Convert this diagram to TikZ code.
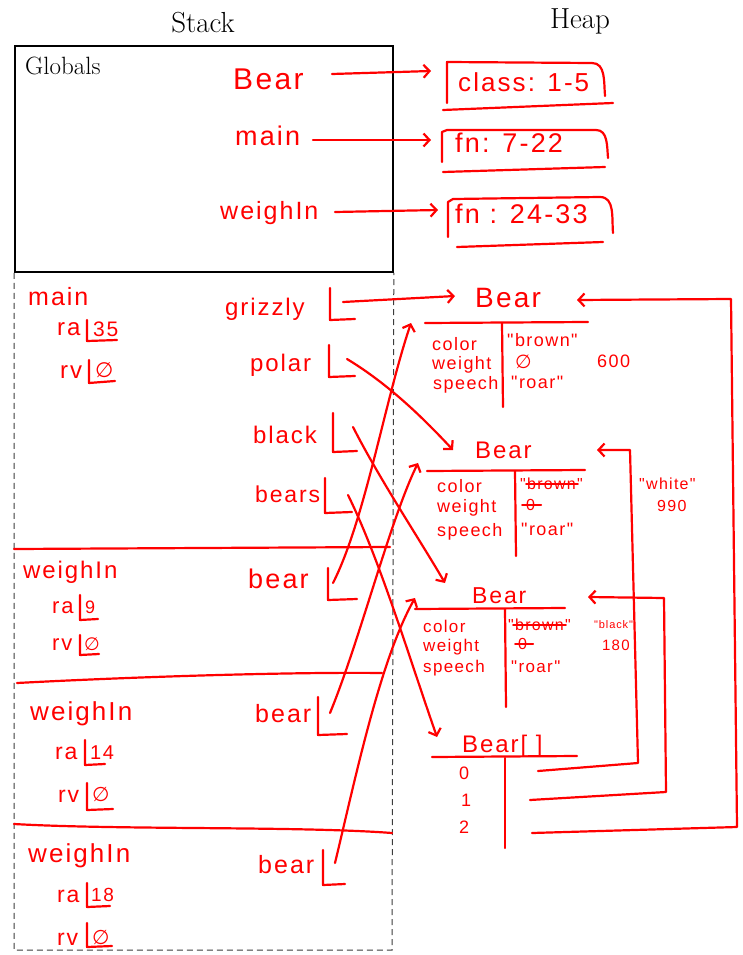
\documentclass[tikz,border=0pt]{standalone}
\usepackage{fontspec}
\newfontfamily\hwfont[LetterSpace=8]{Liberation Sans}
\newfontfamily\symfont{DejaVu Sans}
\usetikzlibrary{arrows.meta,calc}
\definecolor{ink}{RGB}{255,0,0}
\definecolor{dashgray}{RGB}{60,60,60}
\newcommand\hwnull{{\symfont ∅}}
\tikzset{
 hand/.style={draw=ink, line width=2.2pt, line cap=round, line join=round},
 harrow/.style={hand, -{Straight Barb[length=6pt,width=13pt,line width=2.2pt]}},
 hw/.style={text=ink, inner sep=0pt, anchor=base west, font=\hwfont\fontsize{#1}{#1}\selectfont},
 hw/.default=24,
 serif/.style={text=black, inner sep=0pt, font=\fontsize{#1}{#1}\selectfont},
 strike/.style={draw=ink, line width=1.6pt, line cap=round},
}
\begin{document}
\begin{tikzpicture}[x=1pt,y=-1pt]
\useasboundingbox (0,0) rectangle (743,955);
% ---------- titles ----------
\node[serif=29] (stackT) at (203,23) {Stack};
\node[serif=29] (heapT) at (580,21) {Heap};
% ---------- globals ----------
\node[draw=black, line width=1.8pt, minimum width=378pt, minimum height=226pt, anchor=north west, inner sep=0pt] (globals) at (14,45) {};
\node[serif=25, anchor=base west] (globT) at (25,75) {Globals};
\draw[dashgray, line width=1pt, dash pattern=on 6pt off 4pt] (globals.south west) -- (14,950) -- (392,950) -- (globals.south east);

\node[hw=30] (gBear) at (233,90) {Bear};
\node[hw=27] (gMain) at (235,145) {main};
\node[hw=25] (gWeigh) at (220,219) {weighIn};

\node[hw=26] (cls) at (458,92) {class: 1-5};
\draw[hand] (447,103) -- (447,62) -- (592,63) to[out=0,in=95] (605,96);
\draw[hand] (443,110) -- (613,103);
\node[hw=27] (fnA) at (455,153) {fn: 7-22};
\draw[hand] (442,162) -- (442,132) -- (447,130) -- (596,130) to[out=0,in=95] (608,158);
\draw[hand] (443,172) -- (605,167);
\node[hw=27] (fnB) at (455,223) {fn : 24-33};
\draw[hand] (448,237) -- (448,202) -- (453,199) -- (600,197) to[out=0,in=95] (613,233);
\draw[hand] (457,247) -- (603,242);

\coordinate (gBearOut) at (332,74);  \coordinate (clsIn) at (431,71);
\coordinate (gMainOut) at (313,140); \coordinate (fnAIn) at (431,140);
\coordinate (gWeighOut) at (335,212); \coordinate (fnBIn) at (438,210);
\draw[harrow] (gBearOut) -- (clsIn);
\draw[harrow] (gMainOut) -- (fnAIn);
\draw[harrow] (gWeighOut) -- (fnBIn);

% ---------- frame separators ----------
\draw[hand] (14,549) -- (390,547);
\draw[hand] (17,683) .. controls (150,676) and (300,672) .. (382,673);
\draw[hand] (14,824) .. controls (120,830) and (300,826) .. (392,833);

% ---------- main frame ----------
\node[hw=25] (fMain) at (28,305) {main};
\node[hw=24] (mRa) at (57,335) {ra};
\draw[hand] (87,320) -- (87,341) -- (117,340);
\node[hw=21] (mRaV) at (93,336) {35};
\node[hw=24] (mRv) at (60,378) {rv};
\draw[hand] (89,360) -- (89,383) -- (115,381);
\node[hw=21] (mRvV) at (95,377) {\hwnull};

\node[hw=24] (grizzly) at (225,315) {grizzly};
\draw[hand] (330,288) -- (330,320) -- (355,319);
\node[hw=24] (polar) at (250,371) {polar};
\draw[hand] (329,345) -- (329,377) -- (355,376);
\node[hw=24] (black) at (253,443) {black};
\draw[hand] (333,413) -- (333,452) -- (357,451);
\node[hw=23] (bears) at (255,502) {bears};
\draw[hand] (325,478) -- (325,513) -- (352,512);

% ---------- weighIn frame 1 ----------
\node[hw=24] (w1) at (23,578) {weighIn};
\node[hw=22] (w1Ra) at (52,613) {ra};
\draw[hand] (80,595) -- (80,620) -- (98,619);
\node[hw=18] (w1RaV) at (85,613) {9};
\node[hw=22] (w1Rv) at (52,650) {rv};
\draw[hand] (80,635) -- (80,655) -- (99,654);
\node[hw=18] (w1RvV) at (84,650) {\hwnull};
\node[hw=27] (bear1) at (248,588) {bear};
\draw[hand] (328,568) -- (328,600) -- (357,599);

% ---------- weighIn frame 2 ----------
\node[hw=26] (w2) at (30,720) {weighIn};
\node[hw=23] (w2Ra) at (55,759) {ra};
\draw[hand] (85,740) -- (85,765) -- (105,764);
\node[hw=20] (w2RaV) at (90,759) {14};
\node[hw=23] (w2Rv) at (58,802) {rv};
\draw[hand] (87,783) -- (87,810) -- (113,809);
\node[hw=20] (w2RvV) at (92,801) {\hwnull};
\node[hw=25] (bear2) at (255,722) {bear};
\draw[hand] (318,697) -- (318,735) -- (347,734);

% ---------- weighIn frame 3 ----------
\node[hw=26] (w3) at (28,862) {weighIn};
\node[hw=23] (w3Ra) at (57,902) {ra};
\draw[hand] (87,883) -- (87,907) -- (110,906);
\node[hw=19] (w3RaV) at (91,901) {18};
\node[hw=23] (w3Rv) at (57,945) {rv};
\draw[hand] (87,923) -- (87,947) -- (112,946);
\node[hw=20] (w3RvV) at (92,944) {\hwnull};
\node[hw=25] (bear3) at (258,873) {bear};
\draw[hand] (323,850) -- (323,885) -- (345,884);

% ---------- heap: Bear 1 ----------
\node[hw=28] (B1) at (475,307) {Bear};
\draw[hand] (425,323) -- (588,322);
\draw[hand] (502,323) -- (503,407);
\node[hw=18] (B1c) at (432,350) {color};
\node[hw=18] (B1w) at (432,369) {weight};
\node[hw=18] (B1s) at (433,389) {speech};
\node[hw=18] (B1cv) at (507,346) {"brown"};
\node[hw=19] (B1wv) at (515,368) {\hwnull};
\node[hw=18] (B1sv) at (511,388) {"roar"};
\node[hw=18] (B1new) at (597,367) {600};

% ---------- heap: Bear 2 ----------
\node[hw=24] (B2) at (475,458) {Bear};
\draw[hand] (427,471) -- (585,470);
\draw[hand] (515,471) -- (516,556);
\node[hw=18] (B2c) at (437,492) {color};
\node[hw=18] (B2w) at (437,512) {weight};
\node[hw=18] (B2s) at (437,536) {speech};
\node[hw=16] (B2cv) at (520,489) {"brown"};
\draw[strike] ($(B2cv.base west)+(6,-5)$) -- ($(B2cv.base east)+(-5,-5)$);
\node[hw=16] (B2wv) at (526,510) {0};
\draw[strike] ($(B2wv.base west)+(-4,-5)$) -- ($(B2wv.base east)+(6,-5)$);
\node[hw=18] (B2sv) at (521,535) {"roar"};
\node[hw=16] (B2newc) at (639,489) {"white"};
\node[hw=16] (B2neww) at (657,511) {990};

% ---------- heap: Bear 3 ----------
\node[hw=23] (B3) at (472,603) {Bear};
\draw[hand] (415,609) -- (565,608);
\draw[hand] (505,609) -- (506,707);
\node[hw=17] (B3c) at (423,632) {color};
\node[hw=17] (B3w) at (423,651) {weight};
\node[hw=17] (B3s) at (423,672) {speech};
\node[hw=16] (B3cv) at (508,630) {"brown"};
\draw[strike] ($(B3cv.base west)+(5,-5)$) -- ($(B3cv.base east)+(-5,-5)$);
\node[hw=16] (B3wv) at (518,649) {0};
\draw[strike] ($(B3wv.base west)+(-3,-5)$) -- ($(B3wv.base east)+(6,-5)$);
\node[hw=17] (B3sv) at (511,672) {"roar"};
\node[hw=11] (B3newc) at (594,628) {"black"};
\node[hw=15] (B3neww) at (602,650) {180};

% ---------- heap: Bear[] ----------
\node[hw=24] (BA) at (462,752) {Bear[ ]};
\draw[hand] (432,757) -- (577,756);
\draw[hand] (505,758) -- (505,848);
\node[hw=18] (i0) at (459,779) {0};
\node[hw=18] (i1) at (461,806) {1};
\node[hw=18] (i2) at (459,833) {2};

% ---------- connector end points ----------
\coordinate (grizzlyV) at (343,302); \coordinate (B1inL) at (455,296);
\coordinate (polarV) at (347,359);   \coordinate (B2inL) at (453,450);
\coordinate (blackV) at (353,427);   \coordinate (B3inL) at (445,583);
\coordinate (bearsV) at (348,495);   \coordinate (BAinL) at (437,737);
\coordinate (bear1V) at (333,583);   \coordinate (B1inB) at (411,323);
\coordinate (bear2V) at (330,713);   \coordinate (B2inB) at (418,463);
\coordinate (bear3V) at (335,863);   \coordinate (B3inB) at (415,598);
\coordinate (i0V) at (538,771); \coordinate (B2inR) at (597,450);
\coordinate (i1V) at (530,800); \coordinate (B3inR) at (588,597);
\coordinate (i2V) at (532,833); \coordinate (B1inR) at (577,300);

\draw[harrow] (grizzlyV) -- (B1inL);
\draw[harrow] (polarV) .. controls (390,385) and (425,420) .. (B2inL);
\draw[harrow] (blackV) .. controls (380,480) and (420,540) .. (B3inL);
\draw[harrow] (bearsV) .. controls (380,560) and (410,660) .. (BAinL);
\draw[harrow] (bear1V) .. controls (365,520) and (385,400) .. (B1inB);
\draw[harrow] (bear2V) .. controls (360,640) and (390,520) .. (B2inB);
\draw[harrow] (bear3V) .. controls (355,780) and (380,660) .. (B3inB);
\draw[harrow] (i0V) -- (638,763) -- (630,450) -- (B2inR);
\draw[harrow] (i1V) -- (666,792) -- (664,598) -- (B3inR);
\draw[harrow] (i2V) -- (737,827) -- (731,299) -- (B1inR);
\end{tikzpicture}
\end{document}
